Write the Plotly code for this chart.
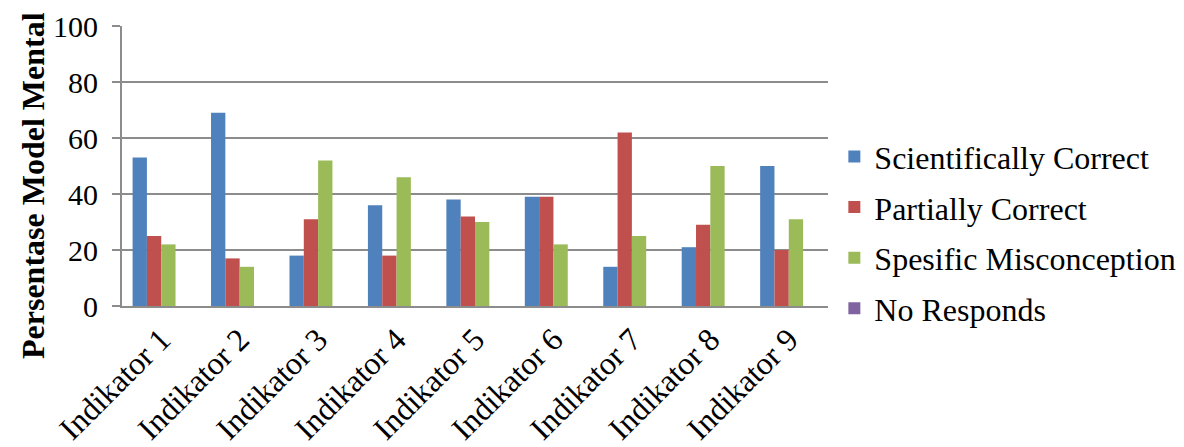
import plotly.graph_objects as go

categories = ["Indikator 1", "Indikator 2", "Indikator 3", "Indikator 4", "Indikator 5",
              "Indikator 6", "Indikator 7", "Indikator 8", "Indikator 9"]
scientifically_correct = [53, 69, 18, 36, 38, 39, 14, 21, 50]
partially_correct = [25, 17, 31, 18, 32, 39, 62, 29, 20]
spesific_misconception = [22, 14, 52, 46, 30, 22, 25, 50, 31]
no_responds = [0, 0, 0, 0, 0, 0, 0, 0, 0]

series = [
    ("Scientifically Correct", scientifically_correct, "#4F81BD"),
    ("Partially Correct", partially_correct, "#C0504D"),
    ("Spesific Misconception", spesific_misconception, "#9BBB59"),
    ("No Responds", no_responds, "#8064A2"),
]

FONT = "Liberation Serif"

fig = go.Figure()
for i, (name, vals, col) in enumerate(series):
    fig.add_trace(go.Bar(x=categories, y=vals, name=name, marker_color=col,
                         marker_line_width=0, legendgroup=f"g{i}"))

fig.update_layout(
    width=1184, height=447,
    margin=dict(l=122, r=356, t=26, b=141, autoexpand=False),
    paper_bgcolor="white", plot_bgcolor="white",
    barmode="group", bargap=0.27, bargroupgap=0,
    font=dict(family=FONT, color="black", size=30),
    legend=dict(x=1.009, xanchor="left", y=0.262, yanchor="middle",
                font=dict(family=FONT, size=32, color="black"), tracegroupgap=6,
                itemwidth=30, bgcolor="rgba(0,0,0,0)"),
    annotations=[dict(text="<b>Persentase Model Mental</b>", xref="paper", yref="paper",
                      x=-122 / 706 + 33 / 706, y=(306 - 186) / 280, xanchor="center",
                      yanchor="middle", textangle=-90, showarrow=False,
                      font=dict(family=FONT, size=32, color="black"))],
)
fig.update_yaxes(
    range=[0, 100], dtick=20, showgrid=True, gridcolor="#8C8C8C", gridwidth=2,
    showline=True, linecolor="#8C8C8C", linewidth=2,
    ticks="outside", ticklen=8, tickcolor="#8C8C8C", tickwidth=2,
    ticklabelstandoff=8, zeroline=False, automargin=False,
    tickfont=dict(family=FONT, size=30, color="black"),
)
fig.update_xaxes(
    showline=True, linecolor="#8C8C8C", linewidth=2, ticks="", automargin=False,
    tickangle=-45, tickfont=dict(family=FONT, size=32, color="black"), showgrid=False,
)

fig.write_html("out.html")
